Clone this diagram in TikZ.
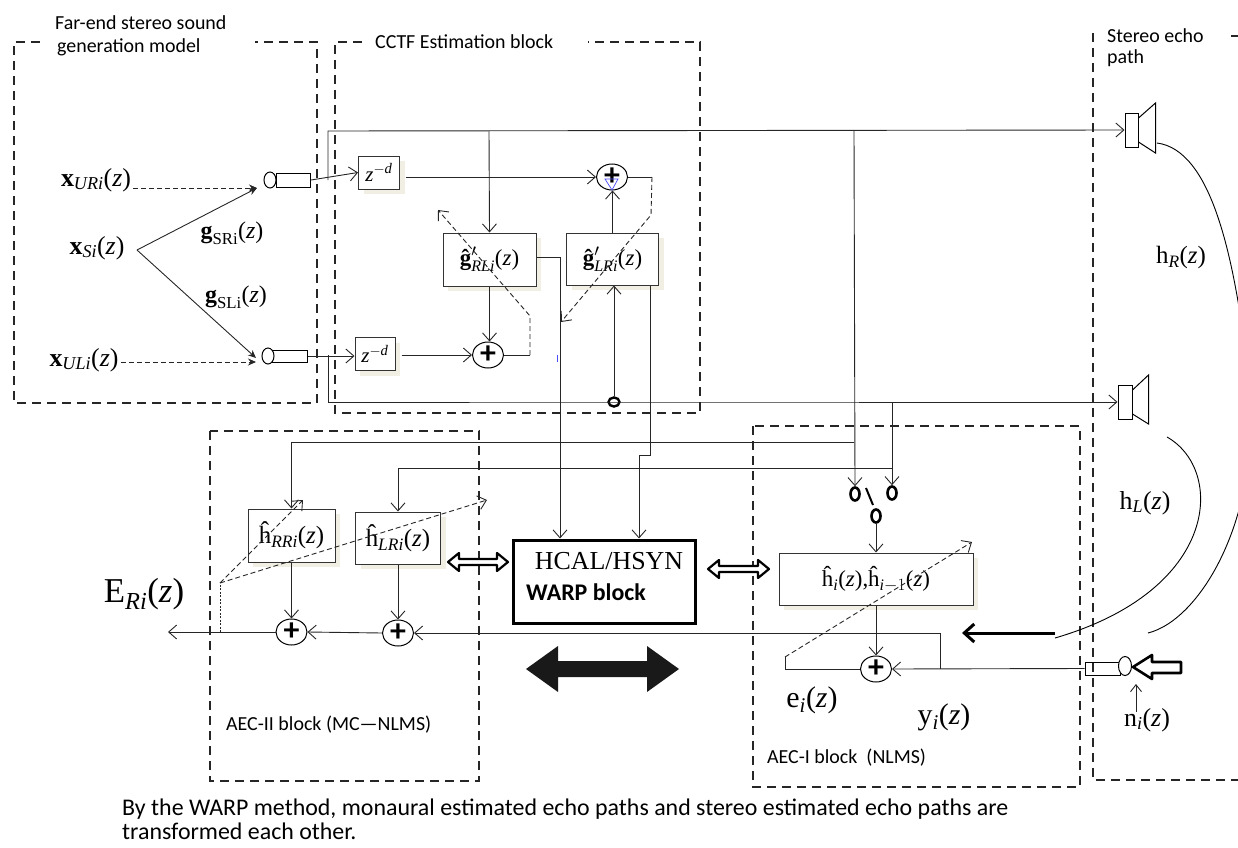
\documentclass[tikz,border=0pt]{standalone}
\usepackage{amsmath}
\usepackage{fontspec}
\setmainfont{Liberation Serif}
\newfontfamily\sansf{Carlito}
\usetikzlibrary{arrows.meta,shapes.geometric,shadows}
\definecolor{shad}{RGB}{241,239,228}
\tikzset{
  dbox/.style={draw=black!85, line width=2.4bp, dash pattern=on 9bp off 6bp},
  blk/.style={draw=black!80, line width=1bp, fill=white, inner sep=0pt,
    general shadow={fill=shad, shadow xshift=5bp, shadow yshift=-5bp}},
  sumc/.style={draw, ellipse, line width=1bp, fill=white, minimum width=31bp,
    minimum height=26bp, inner sep=0pt, font=\sansf\bfseries\fontsize{32}{32}\selectfont},
  con/.style={line width=0.9bp, draw=black!85},
  arr/.style={con, -{Straight Barb[length=8bp,width=14bp]}},
  sarr/.style={con, -{Stealth[length=8bp,width=7bp]}},
  darr/.style={con, dash pattern=on 5bp off 3bp, -{Straight Barb[length=8bp,width=14bp]}},
  dsarr/.style={con, dash pattern=on 5bp off 3bp, -{Stealth[length=8bp,width=7bp]}},
  contact/.style={draw, ellipse, line width=2.6bp, minimum width=9bp, minimum height=13bp, inner sep=0pt},
  lab/.style={inner sep=0pt, font=\fontsize{26}{28}\selectfont},
  sl/.style={inner sep=0pt, anchor=base west, font=\sansf\fontsize{20}{22}\selectfont},
  spk/.style={draw, line width=1bp, inner sep=0pt, minimum width=13bp, minimum height=34bp},
  hollow/.style={draw, line width=2.2bp, fill=white, line join=round},
}
\begin{document}
\begin{tikzpicture}[x=1bp,y=-1bp]
\useasboundingbox (0,0) rectangle (1238,848);

% ---------- dashed blocks ----------
\draw[dbox] (40,42) -- (14,42) -- (14,403) -- (317,403) -- (317,42) -- (255,42);
\draw[dbox] (362,42) -- (335,42) -- (335,413) -- (700,413) -- (700,42) -- (588,42);
\draw[dbox] (1093,33) -- (1093,780) -- (1245,780);
\draw[dbox] (1231,36) -- (1245,36);
\draw[dbox] (210,431) rectangle (479,781);
\draw[dbox] (753,426) rectangle (1080,787);

% ---------- block titles ----------
\node[sl] (tFar1) at (55,29) {Far-end stereo sound};
\node[sl] (tFar2) at (57,52) {generation model};
\node[sl] (tCCTF) at (375,48) {CCTF Estimation block};
\node[sl] (tSt1) at (1107,42) {Stereo echo};
\node[sl] (tSt2) at (1107,63) {path};
\node[sl] (tA2) at (226,730) {AEC-II block (MC\textemdash NLMS)};
\node[sl] (tA1) at (767,763) {AEC-I block \ (NLMS)};
\node[sl, font=\sansf\fontsize{24}{24}\selectfont] (cap1) at (122,815)
  {By the WARP method, monaural estimated echo paths and stereo estimated echo paths are};
\node[sl, font=\sansf\fontsize{24}{24}\selectfont] (cap2) at (122,839) {transformed each other.};

% ---------- far-end model ----------
\node[lab] (xUR) at (96,180) {$\textbf{x}_{\textit{URi}}$(\textit{z})};
\node[lab] (xS) at (97,248) {$\textbf{x}_{\textit{Si}}$(\textit{z})};
\node[lab] (xUL) at (84,360) {$\textbf{x}_{\textit{ULi}}$(\textit{z})};
\node[lab, font=\fontsize{24}{26}\selectfont] (gSR) at (232,233) {$\textbf{g}_{\text{SRi}}$(\textit{z})};
\node[lab, font=\fontsize{24}{26}\selectfont] (gSL) at (236,297) {$\textbf{g}_{\text{SLi}}$(\textit{z})};

\node[draw, line width=1bp, inner sep=0pt, minimum width=34bp, minimum height=14bp] (micR) at (293.5,180) {};
\node[draw, ellipse, line width=1bp, inner sep=0pt, minimum width=12bp, minimum height=16bp, fill=white] (micRh) at (270,180) {};
\node[draw, line width=1bp, inner sep=0pt, minimum width=35bp, minimum height=12bp] (micL) at (289.5,356) {};
\node[draw, ellipse, line width=1bp, inner sep=0pt, minimum width=12bp, minimum height=16bp, fill=white] (micLh) at (268,356) {};

\coordinate (xSo) at (137,250);
\coordinate (pR) at (257,188);
\coordinate (pL) at (256,358);
\draw[dsarr] ([xshift=2bp]xUR.east |- pR) -- (pR);
\draw[dsarr] ([xshift=2bp]xUL.east |- 0,362) -- (pL |- 0,362);
\draw[sarr] (xSo) -- (pR);
\draw[sarr] (xSo) -- (pL);

% ---------- CCTF block ----------
\node[blk, minimum width=41bp, minimum height=33bp] (zR) at (379,172.5) {\fontsize{21}{21}\selectfont\textit{z}$^{-\textit{d}}$};
\node[blk, minimum width=40bp, minimum height=33bp] (zL) at (375,354) {\fontsize{21}{21}\selectfont\textit{z}$^{-\textit{d}}$};
\node[sumc] (sT) at (612,177) {+};
\node[sumc] (sB) at (488,355) {+};
\node[blk, minimum width=93bp, minimum height=53bp] (gRL) at (489.5,259.5) {\fontsize{23}{25}\selectfont\textbf{ĝ}${}'_{\textit{RLi}}$(\textit{z})};
\node[blk, minimum width=92bp, minimum height=52bp] (gLR) at (612.5,259) {\fontsize{23}{25}\selectfont\textbf{ĝ}${}'_{\textit{LRi}}$(\textit{z})};
\node[draw, ellipse, line width=2.4bp, inner sep=0pt, minimum width=11bp, minimum height=9bp, fill=white] (ring) at (614,402) {};

% speakers
\node[spk] (spkR) at (1131.5,130) {};
\draw[line width=1bp] (spkR.east) ++(0,-12) -- ++(17,-15) -- ++(0,50) -- ++(-17,-11);
\node[spk, minimum width=14bp] (spkL) at (1125,402) {};
\draw[line width=1bp] (spkL.east) ++(0,-12) -- ++(16,-15) -- ++(0,49) -- ++(-16,-10);

% main lines
\coordinate (jR) at (328,180);
\coordinate (jL) at (328,355);
\draw[arr] (micR.east) -- (zR.west);
\draw[arr] (jR) -- (328,131) -- (spkR.west);
\draw[arr] (micL.east) -- (zL.west |- micL.east);
\draw[arr] (jL) -- (328,402) -- (ring.west) -- (spkL.west);

\draw[arr] ([xshift=6bp]zR.east |- sT.west) -- (sT.west);
\draw[arr] ([xshift=6bp]zL.east |- sB.west) -- (sB.west);
\draw[arr] (489,131) -- (gRL.north);
\draw[arr] (gRL.south) -- (gRL.south |- sB.north);
\draw[arr] (gLR.north) -- (gLR.north |- sT.south);
\draw[arr] (ring.north) -- (ring.north |- gLR.south);

% adaptation (dashed)
\draw[con] (sB.east) -- (530,355);
\draw[darr] (530,355) -- (530,316) -- (438,210);
\draw[con] (sT.east) -- (652,177);
\draw[darr] (652,177) -- (651,215) -- (561,322);
\draw[blue!70, line width=0.7bp] (605,179) -- (612,190) -- (618,179) -- cycle;
\draw[blue!70, line width=0.8bp] (557,355) -- (557,362);

% ---------- HCAL / WARP ----------
\node[draw, line width=3bp, minimum width=182bp, minimum height=83bp, inner sep=0pt] (HC) at (604,581.5) {};
\node[inner sep=0pt, font=\fontsize{26}{26}\selectfont] (HCt) at (609,561) {HCAL/HSYN};
\node[inner sep=0pt, anchor=base west, font=\sansf\bfseries\fontsize{24}{24}\selectfont] (WBt) at (526,600) {WARP block};
\draw[arr] (gRL.east |- 0,257) -- (560,257) -- (560,0 |- HC.north);
\draw[arr] (650,0 |- gLR.south) -- (650,455) -- (639,455) -- (639,0 |- HC.north);

\fill[black!90] (526,669) -- (558,646) -- (558,661) -- (647,661) -- (647,646) -- (679,669)
  -- (647,692) -- (647,677) -- (558,677) -- (558,692) -- cycle;

\draw[hollow] (448,562) -- (459,553) -- (459,559) -- (497,559) -- (497,553) -- (508,562)
  -- (497,571) -- (497,565) -- (459,565) -- (459,571) -- cycle;
\draw[hollow] (708,569) -- (719,560) -- (719,566) -- (758,566) -- (758,560) -- (769,569)
  -- (758,578) -- (758,572) -- (719,572) -- (719,578) -- cycle;

% ---------- AEC-II ----------
\node[blk, minimum width=87bp, minimum height=53bp] (hRR) at (291.5,535.5) {\fontsize{25}{26}\selectfont ĥ$_{\textit{RRi}}$(\textit{z})};
\node[blk, minimum width=85bp, minimum height=52bp] (hLR) at (398,538) {\fontsize{25}{26}\selectfont ĥ$_{\textit{LRi}}$(\textit{z})};
\node[sumc] (sA1) at (291.5,632) {+};
\node[sumc] (sA2) at (398,633) {+};
\node[lab, font=\fontsize{35}{36}\selectfont] (ERi) at (144,594) {E$_{\textit{Ri}}$(\textit{z})};
\draw[arr] (hRR.south) -- (sA1.north);
\draw[arr] (hLR.south) -- (sA2.north);
\draw[arr] (sA2.west) -- (sA1.east);
\coordinate (Eout) at (168,632);
\draw[arr] (sA1.west) -- (Eout);
\draw[con, dash pattern=on 2bp off 1.5bp] (220,632) -- (220,583);
\draw[darr] (220,583) -- (303,500);
\draw[darr] (220,583) -- (487,500);

% ---------- AEC-I ----------
\node[contact] (swL) at (855,494) {};
\node[contact] (swR) at (892,493) {};
\node[contact] (swC) at (876,516) {};
\draw[line width=2bp] (866,488) -- (873,505);
\draw[arr] (854,131) -- (swL.north);
\draw[arr] (892,402) -- (swR.north);
\draw[arr] (854,442) -- (291.5,442) -- (hRR.north);
\draw[arr] (892,468) -- (398,468) -- (hLR.north);

\node[blk, minimum width=194bp, minimum height=52bp] (hI) at (876,579) {\fontsize{23}{24}\selectfont ĥ$_{\textit{i}}$(\textit{z}),ĥ$_{\textit{i}-1}$(\textit{z})};
\node[sumc] (sI) at (876,669) {+};
\draw[arr] (swC.south) -- (hI.north);
\draw[arr] (hI.south) -- (sI.north);

\node[draw, line width=1bp, inner sep=0pt, minimum width=35bp, minimum height=13bp] (micN) at (1102.5,668.5) {};
\node[draw, ellipse, line width=1bp, inner sep=0pt, minimum width=13bp, minimum height=19bp, fill=white] (micNh) at (1125,666) {};
\draw[arr] (micN.west) -- (sI.east);
\draw[arr] (940,668.5) -- (940,633) -- (sA2.east);
\draw[con] (sI.west) -- (785,669) -- (785,657);
\draw[darr] (785,657) -- (972,542);

\node[lab, font=\fontsize{30}{32}\selectfont] (ei) at (812,700) {e$_{\textit{i}}$(\textit{z})};
\node[lab, font=\fontsize{30}{32}\selectfont] (yi) at (944,717) {y$_{\textit{i}}$(\textit{z})};

% ---------- stereo echo path ----------
\node[lab, font=\fontsize{25}{26}\selectfont] (hR) at (1181,258) {h$_{\textit{R}}$(\textit{z})};
\node[lab, font=\fontsize{26}{26}\selectfont] (hL) at (1145,503) {h$_{\textit{L}}$(\textit{z})};
\node[lab, font=\fontsize{26}{26}\selectfont] (ni) at (1147,720) {n$_{\textit{i}}$(\textit{z})};
\coordinate (niA) at (1136,712);
\draw[con, -{Straight Barb[length=7bp,width=11bp]}] (niA) -- (1136,684);

\draw[line width=0.9bp] (1157,143) .. controls (1210,150) and (1235,250) .. (1250,390)
   .. controls (1260,520) and (1200,620) .. (1148,633);
\draw[line width=0.9bp] (1167,437) .. controls (1225,470) and (1220,590) .. (1055,638);
\coordinate (thA) at (1055,633);
\draw[line width=3bp, -{Straight Barb[length=10bp,width=18bp,line width=3bp]}] (thA) -- (962,633);

\draw[hollow, line width=2.6bp] (1133,667) -- (1152,655) -- (1152,662) -- (1181,662) -- (1181,673)
  -- (1152,673) -- (1152,679) -- cycle;
\end{tikzpicture}
\end{document}
